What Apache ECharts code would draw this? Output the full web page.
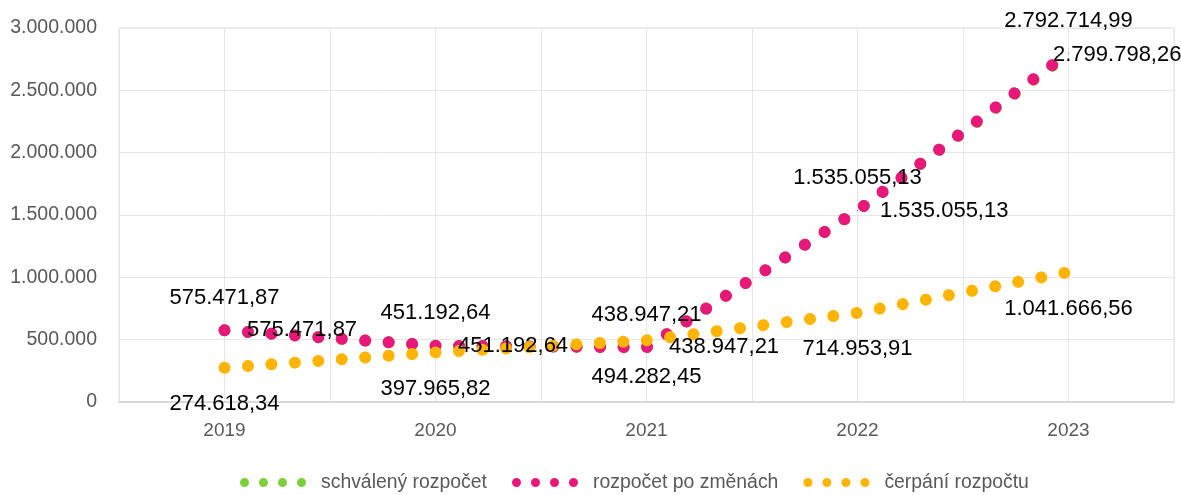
<!DOCTYPE html>
<html>
<head>
<meta charset="utf-8">
<script src="https://cdn.jsdelivr.net/npm/echarts@6/dist/echarts.min.js"></script>
<style>
  html, body { margin: 0; padding: 0; background: #fff; }
  #main { width: 1181px; height: 495px; }
</style>
</head>
<body>
<div id="main"></div>
<script>
const years = ["2019", "2020", "2021", "2022", "2023"];
const schvaleny = [575471.87, 451192.64, 438947.21, 1535055.13, 2792714.99];
const poZmenach = [575471.87, 451192.64, 438947.21, 1535055.13, 2799798.26];
const cerpani = [274618.34, 397965.82, 494282.45, 714953.91, 1041666.56];
const seriesNames = ["schválený rozpočet", "rozpočet po změnách", "čerpání rozpočtu"];
const colors = ["#7cd13a", "#e8177a", "#ffb400"];

const font = "'Liberation Sans', Arial, sans-serif";

function thousands(s) {
  return s.replace(/\B(?=(\d{3})+(?!\d))/g, ".");
}
function fmtMoney(v) {
  const parts = v.toFixed(2).split(".");
  return thousands(parts[0]) + "," + parts[1];
}

// x positions sit in the middle of each year band
const toPoints = (arr) => arr.map((v, i) => [i + 0.5, v]);

const dotLine = (color) => ({
  color: color,
  width: 12,
  type: [0.01, 23.5],
  cap: "round",
});

const labelBase = {
  show: true,
  fontFamily: font,
  fontSize: 22,
  color: "#000",
  formatter: (p) => fmtMoney(p.value[1]),
};

const legendIcon =
  "path://M0,4.5a4.5,4.5 0 1,0 9,0a4.5,4.5 0 1,0 -9,0z" +
  "M19,4.5a4.5,4.5 0 1,0 9,0a4.5,4.5 0 1,0 -9,0z" +
  "M38,4.5a4.5,4.5 0 1,0 9,0a4.5,4.5 0 1,0 -9,0z" +
  "M57,4.5a4.5,4.5 0 1,0 9,0a4.5,4.5 0 1,0 -9,0z";

const chart = echarts.init(document.getElementById("main"), null, { renderer: "canvas" });

const pinkData = toPoints(poZmenach).map((p, i) =>
  i === poZmenach.length - 1
    ? { value: p, label: { offset: [-38, 2] } }
    : { value: p }
);

// tiny symbols carry the labels; they hide under the dots
const symbolOpts = { symbol: "circle", symbolSize: 1, showSymbol: true };

const options = {
  animation: false,
  textStyle: { fontFamily: font },
  grid: {
    left: 119,
    right: 7,
    top: 28,
    bottom: 93,
    show: true,
    borderColor: "#dbe5f3",
    borderWidth: 1,
  },
  legend: {
    top: 468,
    left: 235,
    icon: legendIcon,
    itemWidth: 66,
    itemHeight: 10,
    itemGap: 25,
    data: seriesNames,
    textStyle: {
      fontFamily: font,
      fontSize: 19.4,
      color: "#595959",
      padding: [0, 0, 0, 10],
    },
    itemStyle: { borderWidth: 0 },
    lineStyle: { width: 0 },
  },
  xAxis: {
    type: "value",
    min: 0,
    max: 5,
    interval: 0.5,
    axisLine: { show: true, onZero: false, lineStyle: { color: "#d9d9d9", width: 2 } },
    axisTick: { show: false },
    splitLine: { show: true, lineStyle: { color: "#e6e6e6", width: 1 } },
    axisLabel: {
      fontFamily: font,
      fontSize: 19,
      color: "#595959",
      margin: 19,
      showMinLabel: true,
      showMaxLabel: true,
      formatter: (v) => {
        const i = Math.floor(v);
        return Math.abs(v - i - 0.5) < 1e-6 ? years[i] : "";
      },
    },
  },
  yAxis: {
    type: "value",
    min: 0,
    max: 3000000,
    interval: 500000,
    axisLine: { show: false },
    axisTick: { show: false },
    splitLine: { show: true, lineStyle: { color: "#e6e6e6", width: 1 } },
    axisLabel: {
      fontFamily: font,
      fontSize: 19.5,
      color: "#595959",
      margin: 22,
      formatter: (v) => thousands(String(v)),
    },
  },
  series: [
    {
      name: seriesNames[0],
      type: "line",
      data: toPoints(schvaleny),
      ...symbolOpts,
      color: colors[0],
      lineStyle: dotLine(colors[0]),
      label: { ...labelBase, position: "top", distance: 21 },
    },
    {
      name: seriesNames[1],
      type: "line",
      data: pinkData,
      ...symbolOpts,
      color: colors[1],
      lineStyle: dotLine(colors[1]),
      label: { ...labelBase, position: "right", distance: 22 },
    },
    {
      name: seriesNames[2],
      type: "line",
      data: toPoints(cerpani),
      ...symbolOpts,
      color: colors[2],
      lineStyle: dotLine(colors[2]),
      label: { ...labelBase, position: "bottom", distance: 25 },
    },
  ],
};

chart.setOption(options);
</script>
</body>
</html>
